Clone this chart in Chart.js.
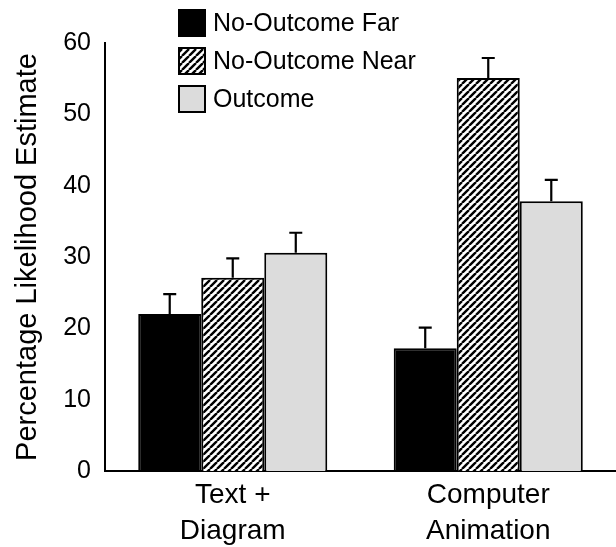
<!DOCTYPE html>
<html>
<head>
<meta charset="utf-8">
<script src="https://cdn.jsdelivr.net/npm/chart.js@4"></script>
<style>
  html, body { margin: 0; padding: 0; background: #fff; }
  #wrap { width: 616px; height: 547px; position: relative; }
</style>
</head>
<body>
<div id="wrap"><canvas id="chart"></canvas></div>
<script>
const categories = [["Text +", "Diagram"], ["Computer", "Animation"]];
const seriesNames = ["No-Outcome Far", "No-Outcome Near", "Outcome"];
const farValues = [22.0, 17.2];
const nearValues = [27.1, 55.1];
const outcomeValues = [30.6, 37.8];
const farErrors = [2.8, 2.9];
const nearErrors = [2.7, 2.8];
const outcomeErrors = [2.8, 3.0];
const yTicks = [0, 10, 20, 30, 40, 50, 60];

const FONT = "'Liberation Sans', Arial, sans-serif";

// diagonal hatch pattern
function makeHatch() {
  const s = 7;
  const c = document.createElement("canvas");
  c.width = s; c.height = s;
  const g = c.getContext("2d");
  g.fillStyle = "#fff";
  g.fillRect(0, 0, s, s);
  g.strokeStyle = "#000";
  g.lineWidth = 2.4;
  g.beginPath();
  for (let k = -1; k <= 1; k++) {
    g.moveTo(k * s, s);
    g.lineTo(k * s + s, 0);
  }
  g.stroke();
  return g.createPattern(c, "repeat");
}
const hatch = makeHatch();
const fills = ["#000000", hatch, "#dcdcdc"];
const errors = [farErrors, nearErrors, outcomeErrors];

// error bars
const errorBars = {
  id: "errorBars",
  afterDatasetsDraw(chart) {
    const ctx = chart.ctx;
    const y = chart.scales.y;
    ctx.save();
    ctx.strokeStyle = "#000";
    ctx.lineWidth = 2.2;
    chart.data.datasets.forEach((ds, i) => {
      chart.getDatasetMeta(i).data.forEach((bar, j) => {
        const top = y.getPixelForValue(ds.data[j] + errors[i][j]);
        ctx.beginPath();
        ctx.moveTo(bar.x, bar.y);
        ctx.lineTo(bar.x, top);
        ctx.moveTo(bar.x - 6.5, top);
        ctx.lineTo(bar.x + 6.5, top);
        ctx.stroke();
      });
    });
    ctx.restore();
  }
};

// legend box top-left
const boxLegend = {
  id: "boxLegend",
  afterDraw(chart) {
    const ctx = chart.ctx;
    ctx.save();
    ctx.font = "25px " + FONT;
    ctx.textBaseline = "middle";
    seriesNames.forEach((name, i) => {
      const x = 179, yy = 10 + i * 38;
      ctx.fillStyle = fills[i];
      ctx.fillRect(x, yy, 26, 26);
      ctx.strokeStyle = "#000";
      ctx.lineWidth = 2;
      ctx.strokeRect(x, yy, 26, 26);
      ctx.fillStyle = "#000";
      ctx.fillText(name, x + 34, yy + 14);
    });
    ctx.restore();
  }
};

new Chart(document.getElementById("chart"), {
  type: "bar",
  data: {
    labels: categories,
    datasets: seriesNames.map((name, i) => ({
      label: name,
      data: [farValues, nearValues, outcomeValues][i],
      backgroundColor: fills[i],
      borderColor: "#000",
      borderWidth: 2,
      borderSkipped: "bottom",
      categoryPercentage: 0.74,
      barPercentage: 1.0
    }))
  },
  options: {
    responsive: true,
    maintainAspectRatio: false,
    animation: false,
    layout: { padding: { top: 43, right: 0, left: 0, bottom: 0 } },
    plugins: { legend: { display: false }, tooltip: { enabled: false } },
    scales: {
      x: {
        grid: { display: false, drawTicks: false },
        border: { color: "#000", width: 2 },
        ticks: { color: "#000", font: { family: FONT, size: 28, lineHeight: 1.3 }, padding: 6, maxRotation: 0 },
        afterFit: s => { s.height = 76; }
      },
      y: {
        min: 0, max: 60,
        afterBuildTicks: s => { s.ticks = yTicks.map(v => ({ value: v })); },
        grid: { display: false, drawTicks: true, tickLength: 6, tickColor: "#000", tickWidth: 2 },
        border: { color: "#000", width: 2 },
        ticks: { color: "#000", font: { family: FONT, size: 25 }, padding: 8 },
        title: {
          display: true,
          text: "Percentage Likelihood Estimate",
          color: "#000",
          font: { family: FONT, size: 29 },
          padding: { top: 11, bottom: 0 }
        },
        afterFit: s => { s.width = 105; }
      }
    }
  },
  plugins: [errorBars, boxLegend]
});
</script>
</body>
</html>
